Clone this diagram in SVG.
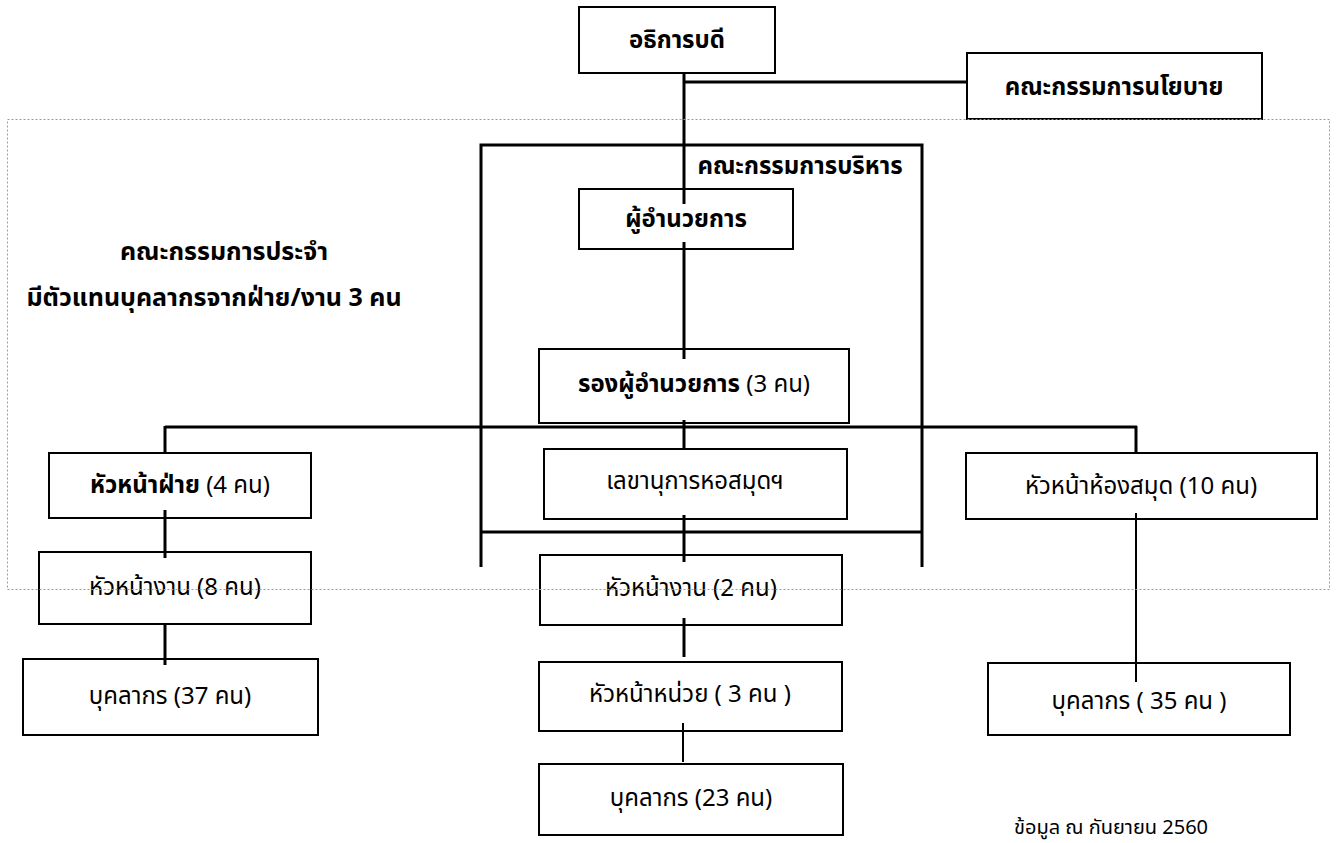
<svg xmlns="http://www.w3.org/2000/svg" width="1341" height="843" viewBox="0 0 1341 843">
<style>
  .box { fill: #ffffff; stroke: #000000; stroke-width: 2; }
  .t { font-family: "Noto Sans Thai", "Noto Sans", "Liberation Sans", sans-serif; font-size: 24px; fill: #000000; text-anchor: middle; dominant-baseline: central; }
  .b { font-weight: bold; }
  .c3 { stroke: #000000; stroke-width: 3; fill: none; }
  .c2 { stroke: #000000; stroke-width: 2; fill: none; }
  .dot { fill: none; stroke: #9a9a9a; stroke-width: 1; stroke-dasharray: 2 2; }
</style>
<rect width="1341" height="843" fill="#ffffff"/>

<g id="nodes">
  <g id="n-president"><rect class="box" x="579" y="7" width="196" height="66"/><text class="t b" x="677" y="41">อธิการบดี</text></g>
  <g id="n-policy"><rect class="box" x="967" y="53" width="295" height="66"/><text class="t b" x="1114" y="88">คณะกรรมการนโยบาย</text></g>
  <g id="n-director"><rect class="box" x="579" y="189" width="214" height="60"/><text class="t b" x="686" y="220">ผู้อำนวยการ</text></g>
  <g id="n-deputy"><rect class="box" x="539" y="349" width="310" height="74"/><text class="t" x="694" y="385"><tspan class="b">รองผู้อำนวยการ</tspan> (3 คน)</text></g>
  <g id="n-div-head"><rect class="box" x="49" y="453" width="262" height="65"/><text class="t" x="180" y="486"><tspan class="b">หัวหน้าฝ่าย</tspan> (4 คน)</text></g>
  <g id="n-secretary"><rect class="box" x="544" y="449" width="303" height="70"/><text class="t" x="695" y="482">เลขานุการหอสมุดฯ</text></g>
  <g id="n-lib-head"><rect class="box" x="966" y="453" width="351" height="66"/><text class="t" x="1141" y="487">หัวหน้าห้องสมุด (10 คน)</text></g>
  <g id="n-sec-head-l"><rect class="box" x="39" y="552" width="272" height="72"/><text class="t" x="175" y="588">หัวหน้างาน (8 คน)</text></g>
  <g id="n-sec-head-c"><rect class="box" x="540" y="555" width="302" height="70"/><text class="t" x="691" y="589">หัวหน้างาน (2 คน)</text></g>
  <g id="n-staff-l"><rect class="box" x="23" y="659" width="295" height="76"/><text class="t" x="170" y="697">บุคลากร (37 คน)</text></g>
  <g id="n-unit-head"><rect class="box" x="539" y="662" width="303" height="69"/><text class="t" x="690" y="695">หัวหน้าหน่วย ( 3 คน )</text></g>
  <g id="n-staff-r"><rect class="box" x="988" y="663" width="302" height="72"/><text class="t" x="1139" y="702">บุคลากร ( 35 คน )</text></g>
  <g id="n-staff-c"><rect class="box" x="539" y="764" width="304" height="71"/><text class="t" x="691" y="799">บุคลากร (23 คน)</text></g>
</g>

<g id="connectors">
  <line class="c3" x1="684" y1="73" x2="684" y2="204"/>
  <line class="c3" x1="684" y1="82" x2="967" y2="82"/>
  <polyline class="c3" points="481,567 481,145 922,145 922,567"/>
  <line class="c3" x1="481" y1="532" x2="922" y2="532"/>
  <line class="c3" x1="684" y1="242" x2="684" y2="359"/>
  <line class="c3" x1="684" y1="420" x2="684" y2="449"/>
  <line class="c3" x1="165" y1="427" x2="1137" y2="427"/>
  <line class="c3" x1="165" y1="426" x2="165" y2="453"/>
  <line class="c3" x1="1136" y1="426" x2="1136" y2="453"/>
  <line class="c3" x1="684" y1="515" x2="684" y2="562"/>
  <line class="c3" x1="165" y1="510" x2="165" y2="558"/>
  <line class="c3" x1="165" y1="624" x2="165" y2="665"/>
  <line class="c3" x1="684" y1="618" x2="684" y2="657"/>
  <line class="c2" x1="683" y1="723" x2="683" y2="762"/>
  <line class="c2" x1="1136" y1="513" x2="1136" y2="682"/>
</g>

<g id="standing-committee">
  <rect class="dot" x="7.5" y="119.5" width="1322" height="470"/>
  <text class="t b" x="224" y="252" style="font-size:25px">คณะกรรมการประจำ</text>
  <text class="t b" x="214" y="298" style="font-size:25px">มีตัวแทนบุคลากรจากฝ่าย/งาน 3 คน</text>
</g>

<g id="labels">
  <text class="t b" x="800" y="167">คณะกรรมการบริหาร</text>
  <text class="t" x="1111" y="828" style="font-size:20px">ข้อมูล ณ กันยายน 2560</text>
</g>
</svg>
